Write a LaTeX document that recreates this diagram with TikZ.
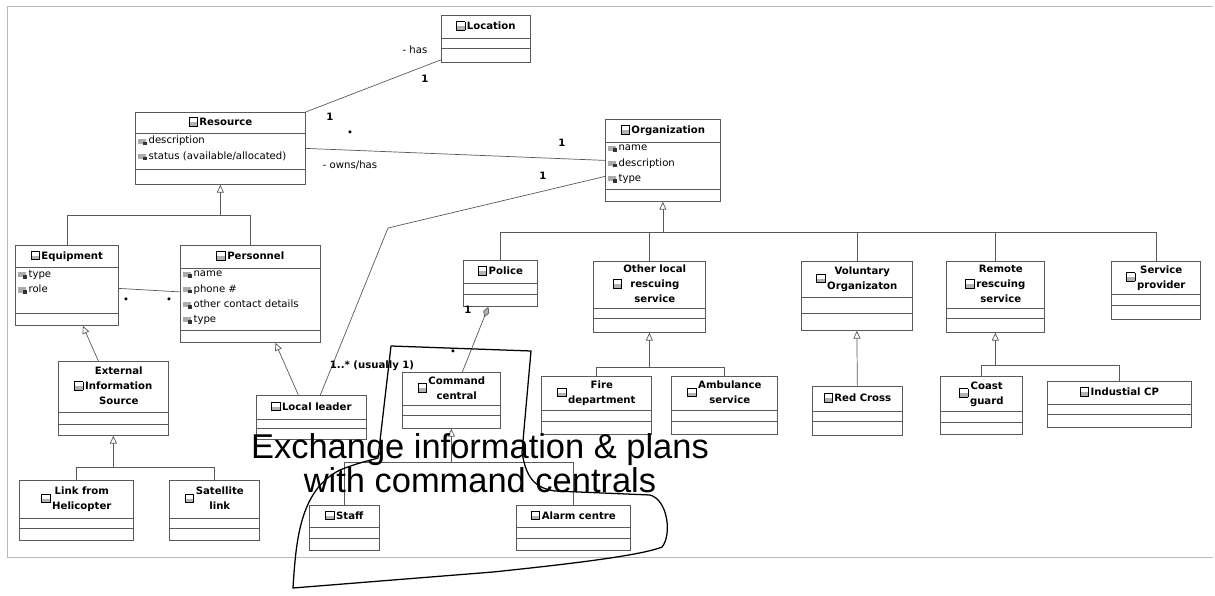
\documentclass[tikz,border=0pt]{standalone}
\usepackage{fontspec}
\usetikzlibrary{shapes.multipart,arrows.meta,calc}

\newfontfamily\umlfont{DejaVu Sans}
\newfontfamily\notefont{Liberation Sans}

% one pixel of the scanned page
\newlength\pxu
\setlength\pxu{0.025cm}

% little class and attribute icons
\newcommand\clsicon{\raisebox{-0.5pt}{\setlength\fboxsep{0pt}\setlength\fboxrule{0.45pt}\fbox{\parbox[b][5.6pt]{5.6pt}{\vfill\textcolor{gray!60}{\rule{5.6pt}{2.4pt}}}}}}
\newcommand\atticon{\textcolor{gray!65}{\rule{5.8pt}{3.6pt}}\kern-2pt\raisebox{-0.9pt}{\textcolor{gray!40!black}{\rule{2.6pt}{2.6pt}}}\kern1.2pt}
\newcommand\dotmark{{\fontsize{6}{6}\selectfont\textbullet}}
\newcommand\ctitle[1]{\clsicon\,\begin{tabular}[c]{@{}c@{}}#1\end{tabular}}

% class box: name, top left corner, width, heights of the three parts, title, attributes
\newcommand\umlclass[8]{%
  \node[cls] (#1) at (#2) {%
    \parbox[c][#4\pxu][c]{#3\pxu}{\centering\bfseries\ctitle{#7}}%
    \nodepart{two}\parbox[c][#5\pxu][t]{#3\pxu}{\vspace{2pt}\raggedright\leftskip=1.8pt #8}%
    \nodepart{three}\parbox[c][#6\pxu]{#3\pxu}{}};}

\tikzset{
  cls/.style={draw=black!65, line width=0.5pt, fill=white, rectangle split, rectangle split parts=3,
    inner sep=0pt, anchor=north west, font=\umlfont\fontsize{7.2}{10.8}\selectfont},
  assoc/.style={draw=black!65, line width=0.5pt},
  gen/.style={assoc, -{Triangle[open, length=5.5pt, width=5pt]}},
  comp/.style={assoc, -{Diamond[fill=gray!60, length=8pt, width=4.5pt]}},
  mult/.style={font=\umlfont\bfseries\fontsize{7.2}{9}\selectfont, inner sep=0pt},
  rolename/.style={font=\umlfont\fontsize{7.2}{9}\selectfont, inner sep=0pt},
  frameline/.style={draw=gray!55, line width=0.6pt},
  scribble/.style={draw=black, line width=0.9pt, line join=round},
}

\begin{document}
\begin{tikzpicture}[x=0.025cm, y=-0.025cm]
\useasboundingbox (0,0) rectangle (1215,596);

% Frame of the scanned page
\draw[frameline] (1213,6) -- (7,6) -- (7,557) -- (1213,557);

% Classes
\umlclass{location}{441,15}{89}{22}{10}{13}{Location}{}
\umlclass{resource}{135,112}{170}{20}{36}{14}{Resource}{\atticon description\\\atticon status (available/allocated)}
\umlclass{organization}{605,119}{115}{22}{47}{11}{Organization}{\atticon name\\\atticon description\\\atticon type}
\umlclass{equipment}{15,245}{103}{21}{46}{11}{Equipment}{\atticon type\\\atticon role}
\umlclass{personnel}{180,245}{140}{22}{62}{11}{Personnel}{\atticon name\\\atticon phone \#\\\atticon other contact details\\\atticon type}
\umlclass{extinfo}{58,361}{110}{50}{12}{10}{External\\Information\\Source}{}
\umlclass{heli}{19,480}{114}{37}{10}{11}{Link from\\Helicopter}{}
\umlclass{satlink}{169,480}{90}{37}{10}{11}{Satellite\\link}{}
\umlclass{leader}{256,395}{110}{23}{9}{10}{Local leader}{}
\umlclass{police}{463,260}{74}{22}{11}{11}{Police}{}
\umlclass{otherlocal}{593,261}{112}{46}{10}{13}{Other local\\rescuing\\service}{}
\umlclass{voluntary}{801,261}{111}{35}{16}{16}{Voluntary\\Organizaton}{}
\umlclass{remote}{946,261}{98}{46}{10}{13}{Remote\\rescuing\\service}{}
\umlclass{provider}{1111,261}{89}{32}{11}{13}{Service\\provider}{}
\umlclass{fire}{541,376}{110}{33}{11}{12}{Fire\\department}{}
\umlclass{ambulance}{671,376}{106}{33}{11}{12}{Ambulance\\service}{}
\umlclass{redcross}{812,386}{90}{24}{10}{13}{Red Cross}{}
\umlclass{coast}{940,376}{82}{34}{11}{11}{Coast\\guard}{}
\umlclass{industial}{1047,381}{144}{22}{10}{12}{Industial CP}{}
\umlclass{command}{402,372}{98}{32}{10}{12}{Command\\central}{}
\umlclass{staff}{309,505}{70}{21}{11}{11}{Staff}{}
\umlclass{alarm}{516,505}{114}{21}{11}{11}{Alarm centre}{}

% Associations
\draw[assoc] (resource.north east) -- ($(location.south west)+(0,-3)$);
\draw[assoc] (resource.east) -- (organization.west);
\coordinate (bend) at (388,228);
\draw[assoc] ($(organization.west)+(0,16)$) -- (bend) -- ($(leader.north)+(9,0)$);
\draw[assoc] ($(equipment.east)+(0,3)$) -- ($(personnel.west)+(0,-2)$);
\draw[comp] ($(command.north)+(11,0)$) -- ($(police.south)+(-12,0)$);

% Generalizations
\coordinate (resj) at ($(resource.south)+(0,31)$);
\draw[assoc] (equipment.north) |- (resj) -| (personnel.north);
\draw[gen] (resj) -- (resource.south);

\coordinate (orgj) at ($(organization.south)+(0,31)$);
\draw[assoc] (police.north) |- (orgj) -| (provider.north);
\foreach \c in {otherlocal, voluntary, remote}
  \draw[assoc] (orgj -| \c.north) -- (\c.north);
\draw[gen] (orgj) -- (organization.south);

\coordinate (othj) at ($(otherlocal.south)+(0,35)$);
\draw[assoc] (fire.north) |- (othj) -| (ambulance.north);
\draw[gen] (othj) -- (otherlocal.south);

\coordinate (remj) at ($(remote.south)+(0,33)$);
\draw[assoc] (coast.north) |- (remj) -| (industial.north);
\draw[gen] (remj) -- (remote.south);

\coordinate (extj) at ($(extinfo.south)+(0,32)$);
\draw[assoc] (heli.north) |- (extj) -| (satlink.north);
\draw[gen] (extj) -- (extinfo.south);

\coordinate (cmdj) at ($(command.south)+(0,34)$);
\draw[assoc] (staff.north) |- (cmdj) -| (alarm.north);
\draw[gen] (cmdj) -- (command.south);

\draw[gen] (redcross.north) -- (voluntary.south);
\draw[gen] ($(extinfo.north)+(-15,0)$) -- ($(equipment.south)+(16,0)$);
\draw[gen] ($(leader.north)+(-13,0)$) -- ($(personnel.south)+(25,0)$);

% Role names and multiplicities
\node[rolename] (lhas) at (415,50) {- has};
\node[mult] (mloc) at (425,79) {1};
\node[mult] (mres) at (330,117) {1};
\node[mult] (mresdot) at (350,133) {\dotmark};
\node[rolename] (lowns) at (350,165) {- owns/has};
\node[mult] (morg) at (562,143) {1};
\node[mult] (morgb) at (543,176) {1};
\node[mult] (mlead) at (372,366) {1..* (usually 1)};
\node[mult] (meq) at (126,300) {\dotmark};
\node[mult] (mper) at (169,300) {\dotmark};
\node[mult] (mpol) at (468,310) {1};
\node[mult] (mcmd) at (453,352) {\dotmark};

% Hand-written note
\node[font=\notefont\fontsize{24.5}{22.8}\selectfont, align=center, inner sep=0pt] (note) at (480,463)
  {Exchange information \& plans\\with command centrals};
\draw[scribble] (391,346) -- (531,351) -- (522,452)
  .. controls (526,478) and (535,488) .. (555,491) -- (650,495)
  .. controls (668,500) and (672,535) .. (662,547)
  .. controls (640,556) and (560,565) .. (493,572) -- (293,588)
  .. controls (296,540) and (300,490) .. (340,470)
  .. controls (360,462) and (372,460) .. (378,458) -- cycle;

\end{tikzpicture}
\end{document}
